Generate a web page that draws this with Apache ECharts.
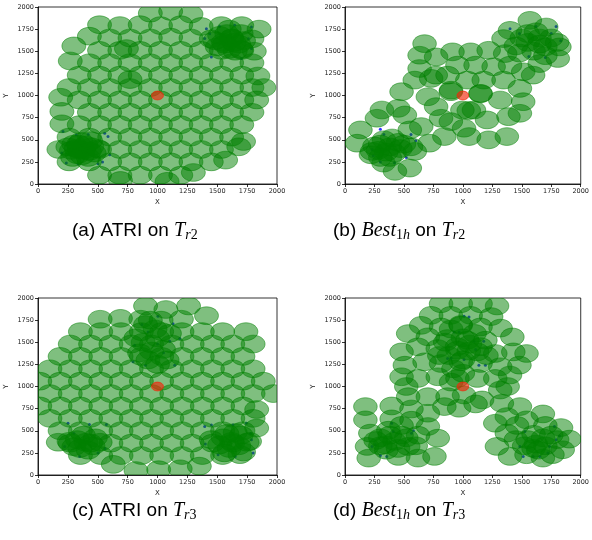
<!DOCTYPE html>
<html>
<head>
<meta charset="utf-8">
<script src="https://cdn.jsdelivr.net/npm/echarts@6/dist/echarts.min.js"></script>
<style>
  html, body { margin: 0; padding: 0; background: #fff; }
  #chart { width: 592px; height: 540px; }
</style>
</head>
<body>
<div id="chart"></div>
<script>
// Axis ticks shared by every panel
const axisTicks = [0, 250, 500, 750, 1000, 1250, 1500, 1750, 2000];

// Base station position (same in all four layouts)
const station = [[1000, 1000]];

// ---- (a) ATRI on Tr2 : coverage disc centres ----
const discsA = [
  [940,1930],[1110,1950],[1280,1920],
  [515,1800],[685,1790],[855,1800],[1025,1790],[1195,1800],[1365,1780],[1535,1790],[1705,1790],[1850,1750],
  [430,1670],[600,1650],[770,1650],[940,1650],[1110,1660],[1280,1650],[1450,1640],[1620,1650],[1790,1640],
  [300,1560],[515,1510],[685,1510],[855,1510],[1025,1510],[1195,1510],[1365,1510],[1535,1510],[1705,1510],[1810,1500],
  [270,1390],[430,1370],[600,1370],[770,1370],[940,1370],[1110,1370],[1280,1370],[1450,1370],[1620,1370],[1790,1370],
  [345,1230],[515,1230],[685,1230],[855,1230],[1025,1230],[1195,1230],[1365,1230],[1535,1230],[1705,1230],[1840,1220],
  [260,1090],[430,1090],[600,1090],[770,1090],[940,1090],[1110,1090],[1280,1090],[1450,1090],[1620,1090],[1790,1090],[1890,1090],
  [190,980],[345,950],[515,950],[685,950],[855,950],[1025,950],[1195,950],[1365,950],[1535,950],[1705,950],[1830,950],
  [200,820],[430,810],[600,810],[770,810],[940,810],[1110,810],[1280,810],[1450,810],[1620,810],[1790,810],
  [200,680],[345,670],[515,670],[685,670],[855,670],[1025,670],[1195,670],[1365,670],[1535,670],[1705,670],
  [260,530],[430,530],[600,530],[770,530],[940,530],[1110,530],[1280,530],[1450,530],[1620,530],[1720,480],
  [175,390],[345,390],[515,390],[685,390],[855,390],[1025,390],[1195,390],[1365,390],[1535,390],[1680,420],
  [260,250],[430,250],[600,250],[770,250],[940,250],[1110,250],[1280,250],[1450,250],[1570,270],
  [515,100],[685,100],[855,100],[1025,100],[1195,100],[1300,130],
  [690,40],[1080,30],
  [740,1530],[770,1180],
  // dense group, lower left
  [300,450],[380,380],[450,420],[330,330],[420,300],[280,380],[360,480],[470,350],[400,440],
  [250,420],[320,400],[430,370],[370,320],[500,400],[340,450],[290,300],[440,490],
  // dense group, upper right
  [1550,1600],[1620,1650],[1680,1580],[1600,1520],[1520,1680],[1700,1700],[1650,1500],[1500,1550],
  [1580,1700],[1720,1620],[1560,1580],[1640,1600],[1480,1620],[1600,1750],[1700,1520]
];
const sensorsA = [
  [209,592],[237,236],[335,229],[502,229],[558,574],[586,536],[600,330],[321,555],[260,470],[420,560],[540,250],[200,350],
  [1409,1755],[1437,1699],[1395,1643],[1451,1436],[1702,1418],[1786,1774],[1646,1793],[1786,1530],[1520,1780],[1760,1640]
];

// ---- (b) Best_1h on Tr2 ----
const discsB = [
  [675,1586],[633,1455],[633,1305],[592,1174],[480,1043],[731,1193],[773,1436],[912,1493],[1066,1493],[1219,1511],
  [1359,1474],[954,1343],[1108,1343],[1261,1324],[1400,1343],[1596,1230],[1177,1174],[1038,1174],[870,1230],[1345,1174],
  [1484,1080],[898,1043],[1150,1024],[1317,949],[1512,930],[703,986],[773,874],[815,743],[996,836],[1094,836],
  [1205,724],[1387,761],[1484,799],[898,705],[1010,630],[1052,536],[1219,499],[1373,536],[843,536],[717,461],
  [647,649],[508,780],[452,855],[313,836],[271,743],[131,611],[103,461],[229,368],[327,236],[424,143],[550,180],
  [592,368],[550,611],
  [1400,1736],[1568,1849],[1707,1774],[1819,1549],[1805,1418],[1652,1361],[1512,1268],[1345,1643],
  [770,1230],[900,1060],[1150,1020],[1050,830],
  [300,450],[380,420],[450,470],[350,360],[420,350],[280,380],[400,520],[470,400],[330,500],[250,430],
  [500,450],[380,300],[300,300],[560,420],[220,330],
  [1550,1600],[1650,1650],[1700,1550],[1500,1650],[1600,1500],[1750,1650],[1620,1720],[1450,1560],
  [1700,1450],[1550,1700],[1800,1600],[1650,1580],[1480,1480]
];
const sensorsB = [
  [1791,1781],[1400,1755],[1480,1700],[1560,1440],[1700,1430],[1750,1700],[1830,1620],[1620,1780],
  [240,320],[230,390],[330,560],[300,250],[560,560],[600,490],[420,240],[520,300],[300,620]
];

// ---- (c) ATRI on Tr3 ----
const discsC = [
  [900,1910],[1070,1870],[1260,1910],[1410,1800],
  [520,1760],[690,1770],[860,1760],[1030,1750],[1200,1760],
  [355,1620],[525,1620],[695,1620],[865,1620],[1035,1620],[1205,1620],[1375,1620],[1545,1620],[1740,1620],
  [270,1480],[440,1480],[610,1480],[780,1480],[950,1480],[1120,1480],[1290,1480],[1460,1480],[1630,1480],[1800,1480],
  [185,1340],[355,1340],[525,1340],[695,1340],[865,1340],[1035,1340],[1205,1340],[1375,1340],[1545,1340],[1715,1340],
  [100,1200],[270,1200],[440,1200],[610,1200],[780,1200],[950,1200],[1120,1200],[1290,1200],[1460,1200],[1630,1200],[1800,1200],
  [15,1060],[185,1060],[355,1060],[525,1060],[695,1060],[865,1060],[1035,1060],[1205,1060],[1375,1060],[1545,1060],[1715,1060],[1885,1060],
  [100,920],[270,920],[440,920],[610,920],[780,920],[950,920],[1120,920],[1290,920],[1460,920],[1630,920],[1800,920],[1970,920],
  [15,780],[185,780],[355,780],[525,780],[695,780],[865,780],[1035,780],[1205,780],[1375,780],[1545,780],[1715,780],[1830,740],
  [100,640],[270,640],[440,640],[610,640],[780,640],[950,640],[1120,640],[1290,640],[1460,640],[1630,640],[1800,640],
  [185,500],[355,500],[525,500],[695,500],[865,500],[1035,500],[1205,500],[1375,500],[1545,500],[1715,500],[1830,530],
  [170,370],[270,360],[440,360],[610,360],[780,360],[950,360],[1120,360],[1290,360],[1460,360],[1630,360],[1770,380],
  [355,220],[525,220],[695,220],[865,220],[1035,220],[1205,220],[1375,220],[1545,220],[1690,230],
  [630,120],[820,50],[1010,60],[1190,70],[1350,100],
  [950,1400],[880,1500],[1000,1550],[920,1300],[1050,1420],[850,1380],[980,1650],[900,1700],[1080,1300],
  [1000,1250],[820,1550],[1100,1600],[940,1750],
  [400,370],[330,400],[460,330],[380,450],[300,320],[480,420],[350,300],[420,280],[260,380],[520,370],
  [1620,380],[1550,420],[1680,330],[1600,300],[1700,450],[1520,340],[1650,480],[1750,370],[1580,470],
  [1450,400],[1720,260],[1560,250]
];
const sensorsC = [
  [1004,1793],[1130,1710],[921,1616],[809,1466],[795,1279],[1102,1511],[1186,1541],[1144,1241],[870,1700],[1050,1380],[900,1240],[1000,1480],
  [251,585],[223,322],[349,210],[502,248],[572,570],[430,570],[300,470],[560,300],
  [1395,548],[1451,566],[1632,566],[1744,585],[1786,398],[1800,248],[1507,229],[1650,210],[1780,470],[1400,350]
];

// ---- (d) Best_1h on Tr3 ----
const discsD = [
  [815,1935],[982,1935],[1150,1935],[1290,1910],
  [731,1804],[898,1804],[1066,1804],[1240,1790],
  [647,1691],[815,1673],[982,1691],[1150,1673],[1320,1660],
  [536,1598],[703,1561],[870,1542],[1038,1523],[1191,1523],[1420,1560],
  [480,1391],[619,1448],[787,1429],[954,1410],[1122,1391],[1275,1373],[1428,1391],[1540,1373],
  [508,1241],[675,1279],[815,1260],[982,1279],[1150,1260],[1317,1223],[1480,1241],
  [480,1110],[619,1091],[787,1110],[954,1091],[1122,1091],[1275,1091],[1400,1130],
  [520,1000],[1380,1000],
  [536,885],[703,885],[870,885],[1010,904],[1163,848],[1317,960],
  [843,773],[968,754],[1108,803],
  [900,1650],[1000,1550],[950,1450],[1050,1400],[880,1350],[1000,1300],[920,1200],[1060,1480],
  [850,1500],[980,1700],[1100,1600],[800,1350],[900,1050],[1000,1150],[1150,1450],[1200,1350],
  [173,773],[173,623],[215,473],[187,323],[201,191],
  [396,780],[396,634],[368,506],[340,341],[452,210],
  [564,746],[564,619],[536,323],[619,191],
  [703,698],[703,548],[787,416],[759,210],
  [300,420],[420,380],[480,450],[350,280],[300,330],[450,300],[520,420],[380,450],[260,390],[600,330],[620,450],[480,560],
  [1331,810],[1373,660],[1275,585],[1289,323],[1400,210],[1540,229],[1484,773],[1540,623],[1679,690],[1833,536],
  [1903,405],[1847,285],[1679,191],[1373,473],
  [1700,560],[1450,400],[1600,300],[1760,230],[1550,400],[1620,350],[1680,420],[1600,460],[1520,330],[1700,330],
  [1750,450],[1640,280],[1460,560],[1800,400]
];
const sensorsD = [
  [1010,1793],[1052,1785],[926,1616],[968,1616],[870,1316],[1094,1511],[1108,1417],[1177,1511],[1136,1241],[1191,1241],[1010,1305],[900,1320],
  [229,323],[257,341],[396,585],[410,491],[564,473],[580,500],[354,210],[300,220],
  [1526,491],[1484,323],[1512,210],[1596,210],[1652,210],[1721,248],[1777,548],[1791,398],[1735,323],[1820,440]
];

// Captions under each panel
const captions = [
  '{n|(a) ATRI on }{mi|T}{si|r}{sn|2}',
  '{n|(b) }{mi|Best}{sn|1}{si|h}{n| on }{mi|T}{si|r}{sn|2}',
  '{n|(c) ATRI on }{mi|T}{si|r}{sn|3}',
  '{n|(d) }{mi|Best}{sn|1}{si|h}{n| on }{mi|T}{si|r}{sn|3}'
];

const DISC_RADIUS = 100;     // sensing radius, data units
const STATION_RADIUS = 50;

const panels = [
  { discs: discsA, sensors: sensorsA, grid: { left: 38, top: 7 },   caption: { x: 72,  y: 231 } },
  { discs: discsB, sensors: sensorsB, grid: { left: 345, top: 7 },  caption: { x: 333, y: 231 } },
  { discs: discsC, sensors: sensorsC, grid: { left: 38, top: 298 }, caption: { x: 72,  y: 511 } },
  { discs: discsD, sensors: sensorsD, grid: { left: 345, top: 298 }, caption: { x: 333, y: 511 } }
];

// Filled ellipse (a circle in data space) with a same-coloured translucent rim
function ellipseRenderer(radius, fill) {
  return function (params, api) {
    const c = api.coord([api.value(0), api.value(1)]);
    const s = api.size([radius, radius]);
    return {
      type: 'ellipse',
      shape: { cx: c[0], cy: c[1], rx: s[0], ry: s[1] },
      style: { fill: fill, stroke: fill, lineWidth: 1 }
    };
  };
}

function makeAxis(i, isX) {
  return {
    type: 'value', gridIndex: i,
    min: axisTicks[0], max: axisTicks[axisTicks.length - 1],
    interval: axisTicks[1] - axisTicks[0],
    name: isX ? 'X' : 'Y', nameLocation: 'middle', nameGap: isX ? 15 : 28,
    nameTextStyle: { fontSize: 7, color: '#222', fontFamily: 'DejaVu Sans' },
    axisLine: { show: true, onZero: false, lineStyle: { color: '#000', width: 0.8 } },
    axisTick: { show: true, length: 3, lineStyle: { color: '#000', width: 0.8 } },
    axisLabel: {
      fontSize: 6.5, color: '#222', margin: 4, fontFamily: 'DejaVu Sans',
      formatter: function (v) { return String(v); }
    },
    splitLine: { show: false }
  };
}

const richStyles = {
  n:  { fontFamily: 'Liberation Sans', fontSize: 19, color: '#000' },
  mi: { fontFamily: 'Liberation Serif', fontStyle: 'italic', fontSize: 20, color: '#000' },
  si: { fontFamily: 'Liberation Serif', fontStyle: 'italic', fontSize: 14, color: '#000', padding: [9, 0, 0, 0] },
  sn: { fontFamily: 'Liberation Serif', fontSize: 14, color: '#000', padding: [9, 0, 0, 0] }
};

const grids = [], xAxes = [], yAxes = [], series = [], graphics = [];
panels.forEach(function (p, i) {
  grids.push({
    left: p.grid.left, top: p.grid.top, width: 239, height: 177,
    show: true, borderColor: '#000', borderWidth: 0.8, backgroundColor: 'transparent'
  });
  xAxes.push(makeAxis(i, true));
  yAxes.push(makeAxis(i, false));
  series.push({
    type: 'scatter', xAxisIndex: i, yAxisIndex: i, data: p.sensors,
    symbol: 'circle', symbolSize: 3, itemStyle: { color: '#0000ff' }, z: 1, silent: true
  });
  series.push({
    type: 'custom', xAxisIndex: i, yAxisIndex: i, data: p.discs, clip: true,
    renderItem: ellipseRenderer(DISC_RADIUS, 'rgba(0,128,0,0.5)'), z: 2, silent: true
  });
  series.push({
    type: 'custom', xAxisIndex: i, yAxisIndex: i, data: station, clip: true,
    renderItem: ellipseRenderer(STATION_RADIUS, 'rgba(240,40,10,0.65)'), z: 3, silent: true
  });
  graphics.push({
    type: 'text', x: p.caption.x, y: p.caption.y,
    style: { text: captions[i], rich: richStyles, verticalAlign: 'middle', align: 'left' }
  });
});

const chart = echarts.init(document.getElementById('chart'), null, { renderer: 'canvas' });
chart.setOption({
  backgroundColor: '#fff',
  animation: false,
  grid: grids,
  xAxis: xAxes,
  yAxis: yAxes,
  series: series,
  graphic: graphics
});
</script>
</body>
</html>
